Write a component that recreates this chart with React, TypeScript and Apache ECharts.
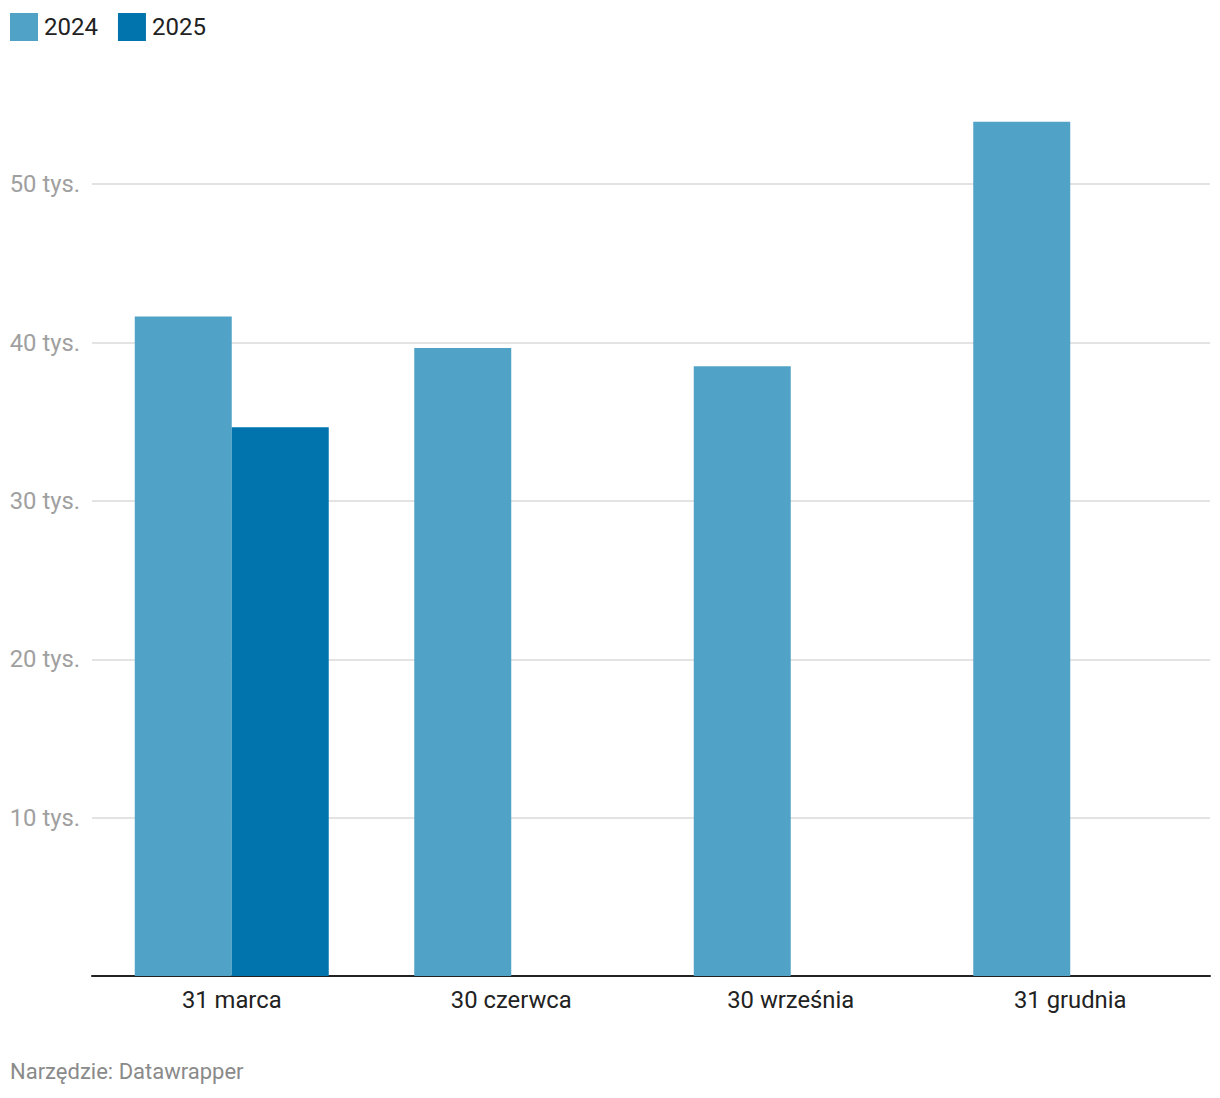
import React, { useEffect, useRef } from "react";
import * as echarts from "echarts";

const categories = ["31 marca", "30 czerwca", "30 września", "31 grudnia"];
const values2024 = [41650, 39650, 38500, 53950];
const values2025: (number | null)[] = [34650, null, null, null];
const yTicks = [0, 10000, 20000, 30000, 40000, 50000];
const sourceText = "Narzędzie: Datawrapper";

const FONT = "Roboto, 'Noto Sans', sans-serif";

export default function App() {
  const ref = useRef<HTMLDivElement>(null);
  useEffect(() => {
    if (!ref.current) return;
    const chart = echarts.init(ref.current, null, { renderer: "svg" });
    chart.setOption({
      animation: false,
      backgroundColor: "#ffffff",
      textStyle: { fontFamily: FONT },
      legend: {
        left: 10,
        top: 13,
        padding: 0,
        icon: "rect",
        itemWidth: 28,
        itemHeight: 28,
        itemGap: 20,
        textStyle: { fontSize: 24, color: "#222222", fontFamily: FONT, padding: [0, 0, 0, 1] },
        data: ["2024", "2025"],
      },
      grid: { left: 92, right: 10, top: 105, bottom: 122, containLabel: false },
      xAxis: {
        type: "category",
        data: categories,
        axisLine: { show: true, lineStyle: { color: "#222222", width: 2 } },
        axisTick: { show: false },
        axisLabel: { fontSize: 23.8, color: "#222222", margin: 12, fontFamily: FONT },
      },
      yAxis: {
        type: "value",
        min: 0,
        max: 55000,
        interval: 10000,
        axisLine: { show: false },
        axisTick: { show: false },
        splitLine: {
          show: true,
          showMaxLine: false,
          lineStyle: { color: "#e3e3e3", width: 2 },
        },
        axisLabel: {
          fontSize: 23.8,
          color: "#a0a0a0",
          margin: 12,
          fontFamily: FONT,
          formatter: (v: number) =>
            yTicks.includes(v) && v !== 0 ? `${v / 1000} tys.` : "",
        },
      },
      series: [
        {
          name: "2024",
          type: "bar",
          data: values2024,
          barWidth: 97,
          barGap: "0%",
          itemStyle: { color: "#51a2c7" },
        },
        {
          name: "2025",
          type: "bar",
          data: values2025,
          barWidth: 97,
          barGap: "0%",
          itemStyle: { color: "#0274ad" },
        },
      ],
      graphic: [
        {
          type: "text",
          left: 10,
          top: 1060,
          style: {
            text: sourceText,
            fontSize: 22,
            fill: "#8a8a8a",
            fontFamily: FONT,
          },
        },
      ],
    });
    return () => chart.dispose();
  }, []);
  return (
    <div
      ref={ref}
      style={{ position: "fixed", left: 0, top: 0, width: 1220, height: 1098 }}
    />
  );
}
